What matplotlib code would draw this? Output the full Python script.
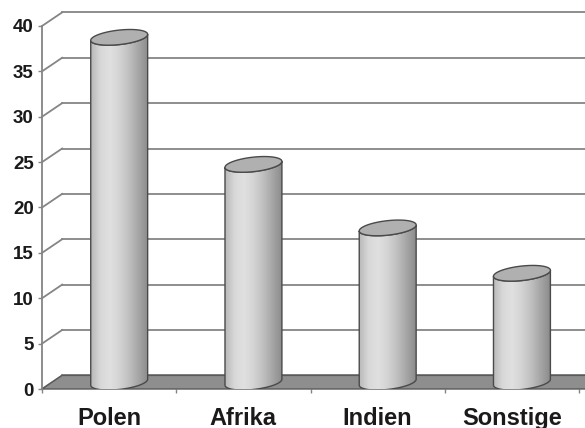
import numpy as np
import matplotlib
matplotlib.use("Agg")
import matplotlib.pyplot as plt
from matplotlib.patches import Polygon
from matplotlib.colors import LinearSegmentedColormap

# data
categories = ["Polen", "Afrika", "Indien", "Sonstige"]
values = [38, 24, 17, 12]
y_ticks = [0, 5, 10, 15, 20, 25, 30, 35, 40]

plt.rcParams['font.family'] = ['Liberation Sans', 'DejaVu Sans']

W, H = 585, 428
fig = plt.figure(figsize=(W / 100, H / 100), dpi=100)
# front plane of the 3d box in pixels: x 42..579, y 389..26
ax = fig.add_axes([42 / W, 39 / H, 537 / W, 363 / H])
ax.set_xlim(-0.5, 3.5)
ax.set_ylim(0, 40)

# depth offset of the back wall (in data units)
DX, DY = 0.15, 1.5
grid_col = "#858585"
edge_col = "#4a4a4a"

# back wall gridlines + diagonals on the left side wall
for v in y_ticks:
    ax.plot([-0.5 + DX, 3.8], [v + DY, v + DY], color=grid_col, lw=1.3,
            clip_on=False, zorder=1)
    ax.plot([-0.5, -0.5 + DX], [v, v + DY], color=grid_col, lw=1.3,
            clip_on=False, zorder=1)

# floor
floor = Polygon([(-0.5, 0), (3.8, 0), (3.8 + DX, DY), (-0.5 + DX, DY)],
                closed=True, facecolor="#8e8e8e", edgecolor="#5a5a5a",
                lw=1.0, clip_on=False, zorder=2)
ax.add_patch(floor)

# cylinders
cmap = LinearSegmentedColormap.from_list(
    "cyl", ["#b8b8b8", "#d8d8d8", "#e0e0e0", "#d4d4d4", "#c0c0c0", "#a6a6a6", "#8c8c8c"])
half_w = 0.212
eb = 0.80          # ellipse half height
tilt = 0.33        # right end of ellipse sits higher than left end
t_front = np.linspace(np.pi, 2 * np.pi, 60)
t_all = np.linspace(0, 2 * np.pi, 120)

for i, v in enumerate(values):
    cx = i + DX / 2
    y0 = DY / 2
    y1 = v + DY / 2
    bx = cx + half_w * np.cos(t_front)
    by_bot = y0 + eb * np.sin(t_front) + tilt * np.cos(t_front)
    by_top = y1 + eb * np.sin(t_front) + tilt * np.cos(t_front)
    body_pts = np.vstack([np.column_stack([bx, by_bot]),
                          np.column_stack([bx[::-1], by_top[::-1]])])
    body = Polygon(body_pts, closed=True, facecolor="none", edgecolor=edge_col,
                   lw=1.0, zorder=5)
    ax.add_patch(body)
    grad = np.linspace(0, 1, 256).reshape(1, -1)
    im = ax.imshow(grad, cmap=cmap, aspect="auto", zorder=4,
                   extent=(cx - half_w, cx + half_w, y0 - eb - tilt, y1 + eb + tilt))
    im.set_clip_path(body)
    # top ellipse
    ex = cx + half_w * np.cos(t_all)
    ey = y1 + eb * np.sin(t_all) + tilt * np.cos(t_all)
    top = Polygon(np.column_stack([ex, ey]), closed=True, facecolor="#b0b0b0",
                  edgecolor=edge_col, lw=1.0, zorder=6)
    ax.add_patch(top)

ax.set_xlim(-0.5, 3.5)
ax.set_ylim(0, 40)

# axes styling
for s in ["top", "right", "bottom"]:
    ax.spines[s].set_visible(False)
ax.spines["left"].set_color(grid_col)
ax.spines["left"].set_linewidth(1.3)
ax.set_yticks(y_ticks)
ax.set_yticklabels([str(v) for v in y_ticks], fontsize=13.5, fontweight="bold",
                   color="#1a1a1a")
ax.tick_params(axis="y", length=3, width=1, color=grid_col, pad=3)
ax.set_xticks([-0.5, 0.5, 1.5, 2.5, 3.5])
ax.set_xticklabels([])
ax.tick_params(axis="x", length=3, width=1, color=grid_col)

for i, c in enumerate(categories):
    ax.annotate(c, xy=(i, 0), xycoords=("data", "axes fraction"),
                xytext=(0, -36), textcoords="offset pixels",
                ha="center", va="baseline", fontsize=17, fontweight="bold",
                color="#1a1a1a", annotation_clip=False)

fig.savefig("out.png", dpi=100)
